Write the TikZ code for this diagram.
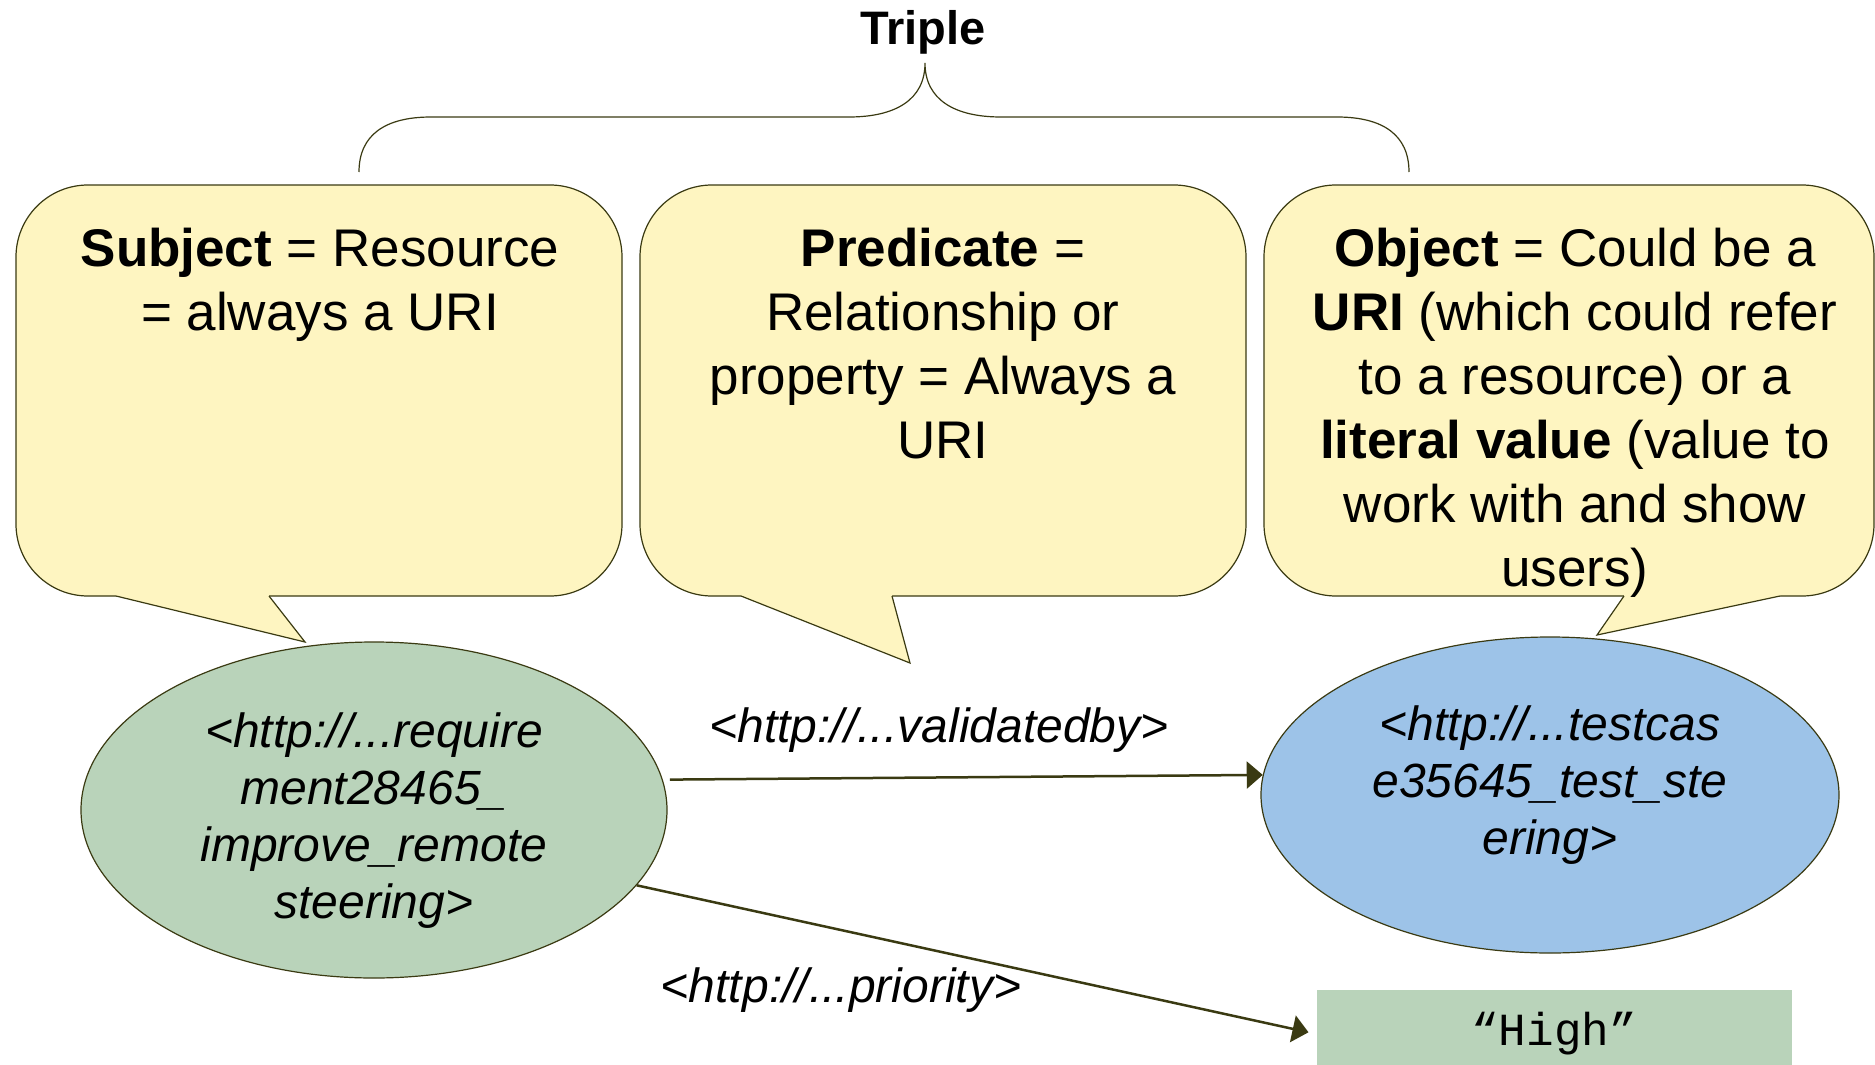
\documentclass[tikz,border=0pt]{standalone}
\usepackage{fontspec}
\setmainfont{Liberation Sans}
\setmonofont{Liberation Mono}
\usetikzlibrary{arrows.meta,shapes.geometric}

\definecolor{edgeolive}{HTML}{3A3A12}
\definecolor{bubbleyellow}{HTML}{FEF5C1}
\definecolor{reqgreen}{HTML}{B9D3BA}
\definecolor{testblue}{HTML}{9DC3E8}

\tikzset{
  bubble/.style={draw=edgeolive, fill=bubbleyellow, line width=1.2pt, rounded corners=72pt},
  bubbletext/.style={anchor=north, align=center, inner sep=0pt, font=\fontsize{53}{64}\selectfont},
  resource/.style={ellipse, draw=edgeolive, line width=1.2pt, inner sep=0pt, align=center, font=\fontsize{48}{57}\selectfont\itshape},
  link/.style={-{Triangle[length=16pt,width=27pt]}, draw=edgeolive, line width=2.5pt},
  linklabel/.style={anchor=base, inner sep=0pt, font=\fontsize{48}{57}\selectfont\itshape},
}

\begin{document}
\begin{tikzpicture}[x=1pt, y=-1pt]
\useasboundingbox (0,0) rectangle (1875,1065);

\node (triple) at (923,45) [anchor=base, inner sep=0pt, font=\fontsize{47}{56}\selectfont\bfseries] {Triple};
\draw [edgeolive, line width=1.2pt] (359,172) .. controls (359,135) and (385,117) .. (431,117) -- (849,117)
  .. controls (895,117) and (925,100) .. (925,63) .. controls (925,100) and (955,117) .. (1001,117) -- (1337,117)
  .. controls (1383,117) and (1409,135) .. (1409,172);

% speech bubbles
\draw [bubble] (16,185) rectangle (622,596);
\fill [bubbleyellow] (116,590) -- (116,596) -- (305,642) -- (269,596) -- (269,590) -- cycle;
\draw [edgeolive, line width=1.2pt] (116,596) -- (305,642) -- (269,596);

\draw [bubble] (640,185) rectangle (1246,596);
\fill [bubbleyellow] (741,590) -- (741,596) -- (910,663) -- (892,596) -- (892,590) -- cycle;
\draw [edgeolive, line width=1.2pt] (741,596) -- (910,663) -- (892,596);

\draw [bubble] (1264,185) rectangle (1874,596);
\fill [bubbleyellow] (1624,590) -- (1624,596) -- (1597,635) -- (1780,596) -- (1780,590) -- cycle;
\draw [edgeolive, line width=1.2pt] (1624,596) -- (1597,635) -- (1780,596);

\node [bubbletext] (subject) at (320,228) {\textbf{Subject} = Resource\\= always a URI};
\node [bubbletext] (predicate) at (943,228) {\textbf{Predicate} =\\Relationship or\\property = Always a\\URI};
\node [bubbletext] (object) at (1575,228) {\textbf{Object} = Could be a\\\textbf{URI} (which could refer\\to a resource) or a\\\textbf{literal value} (value to\\work with and show\\users)};

% resources
\node [resource, fill=reqgreen, minimum width=586pt, minimum height=336pt, text height=217pt, text depth=0pt] (req) at (374,810) {<http://...require\\ment28465\_\\improve\_remote\\steering>};
\node [resource, fill=testblue, minimum width=578pt, minimum height=316pt, text depth=29pt] (tc) at (1550,795) {<http://...testcas\\e35645\_test\_ste\\ering>};
\node [fill=reqgreen, minimum width=475pt, minimum height=88pt, inner sep=0pt, font=\ttfamily\fontsize{46}{55}\selectfont] (high) at (1554,1034) {“High”};

\draw [link, shorten <=7pt] (req.6) -- (tc.176);
\draw [link, shorten >=8pt] (req.-16) -- (high.west);

\node [linklabel] (validated) at (939,742) {<http://...validatedby>};
\node [linklabel] (priority) at (841,1002) {<http://...priority>};

\end{tikzpicture}
\end{document}
